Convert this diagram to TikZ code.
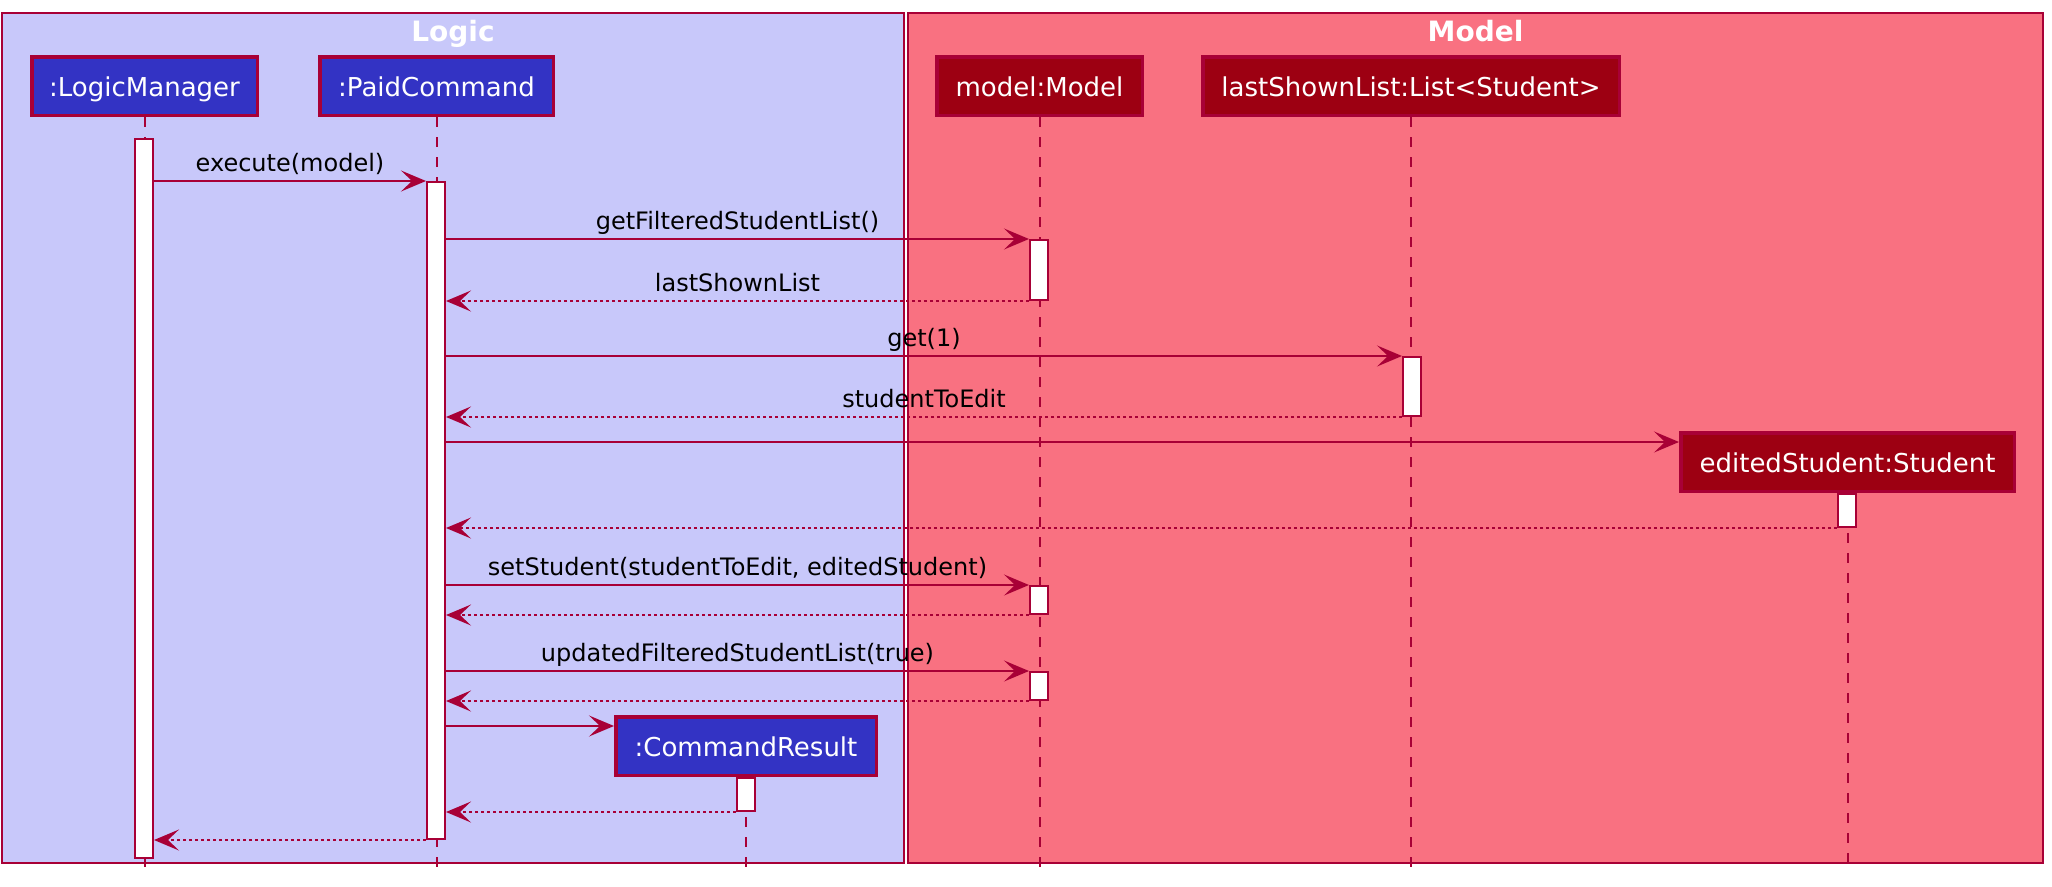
\documentclass[tikz,border=0pt]{standalone}
\usepackage{fontspec}
\setmainfont{DejaVu Sans}
\usetikzlibrary{arrows.meta}
\definecolor{umlred}{HTML}{A80036}
\definecolor{logicc}{HTML}{3333C4}
\definecolor{logict}{HTML}{C8C8FA}
\definecolor{modelc}{HTML}{9D0012}
\definecolor{modelt}{HTML}{F97181}

\begin{document}
\begin{tikzpicture}[x=1pt,y=-1pt,
  title/.style={anchor=base,inner sep=0pt,text=white,font=\bfseries\fontsize{28}{32}\selectfont},
  part/.style={draw=umlred,line width=3.5pt,text=white,minimum height=58.5pt,inner sep=0pt,
    text height=21.3pt,text depth=0pt,font=\fontsize{26}{30}\selectfont},
  lpart/.style={part,fill=logicc},
  mpart/.style={part,fill=modelc},
  life/.style={draw=umlred,line width=2pt,dash pattern=on 10pt off 10pt},
  act/.style={draw=umlred,fill=white,line width=2pt,minimum width=18pt,inner sep=0pt,anchor=north},
  msg/.style={draw=umlred,line width=2pt,-{Stealth[length=25pt,width=21pt,inset=11pt]}},
  ret/.style={msg,dash pattern=on 3pt off 3pt},
  lbl/.style={anchor=base,yshift=10pt,inner sep=0pt,font=\fontsize{24}{28}\selectfont}]
\useasboundingbox (0,0) rectangle (2052,886);
% The boxes
\draw[umlred,line width=2pt,fill=logict] (2,13) rectangle (904,863);
\draw[umlred,line width=2pt,fill=modelt] (908,13) rectangle (2043,863);
\node[title] (tlogic) at (453,41) {Logic};
\node[title] (tmodel) at (1475.5,41) {Model};

% The participants
\node[lpart,minimum width=225.5pt] (lm) at (144.5,86) {:LogicManager};
\node[lpart,minimum width=233.5pt] (pc) at (436.5,86) {:PaidCommand};
\node[mpart,minimum width=205.5pt] (mdl) at (1039.5,86) {model:Model};
\node[mpart,minimum width=416.5pt] (lsl) at (1411,86) {lastShownList:List<Student>};
\node[mpart,minimum width=333.5pt] (es) at (1847.5,462) {editedStudent:Student};
\node[lpart,minimum width=260.5pt] (cr) at (746,746) {:CommandResult};

% The lifelines
\coordinate (bottom) at (0,869);
\foreach \p in {lm,pc,mdl,lsl,es,cr}
  \draw[life] (\p.south) -- (\p.south |- bottom);

% The activations
\node[act,minimum height=719pt] (aLM) at (144,138) {};
\node[act,minimum height=657pt] (aPC) at (436,181) {};
\node[act,minimum height=60pt] (aM1) at (1039,239) {};
\node[act,minimum height=59pt] (aL) at (1412,356) {};
\node[act,minimum height=33pt] (aES) at (1847,493) {};
\node[act,minimum height=28pt] (aM2) at (1039,585) {};
\node[act,minimum height=28pt] (aM3) at (1039,671) {};
\node[act,minimum height=33pt] (aCR) at (746,777) {};

% Calls and returns
\coordinate (esin) at ([yshift=-11pt]es.north west);
\coordinate (crin) at ([yshift=-11pt]cr.north west);
\draw[msg] (aLM.east |- aPC.north) -- node[lbl] {execute(model)} (aPC.north west);
\draw[msg] (aPC.east |- aM1.north) -- node[lbl] {getFilteredStudentList()} (aM1.north west);
\draw[ret] (aM1.south west) -- node[lbl] {lastShownList} (aPC.east |- aM1.south);
\draw[msg] (aPC.east |- aL.north) -- node[lbl] {get(1)} (aL.north west);
\draw[ret] (aL.south west) -- node[lbl] {studentToEdit} (aPC.east |- aL.south);
\draw[msg] (aPC.east |- esin) -- (esin);
\draw[ret] (aES.south west) -- (aPC.east |- aES.south);
\draw[msg] (aPC.east |- aM2.north) -- node[lbl] {setStudent(studentToEdit, editedStudent)} (aM2.north west);
\draw[ret] (aM2.south west) -- (aPC.east |- aM2.south);
\draw[msg] (aPC.east |- aM3.north) -- node[lbl] {updatedFilteredStudentList(true)} (aM3.north west);
\draw[ret] (aM3.south west) -- (aPC.east |- aM3.south);
\draw[msg] (aPC.east |- crin) -- (crin);
\draw[ret] (aCR.south west) -- (aPC.east |- aCR.south);
\draw[ret] (aPC.south west) -- (aLM.east |- aPC.south);
\end{tikzpicture}
\end{document}
